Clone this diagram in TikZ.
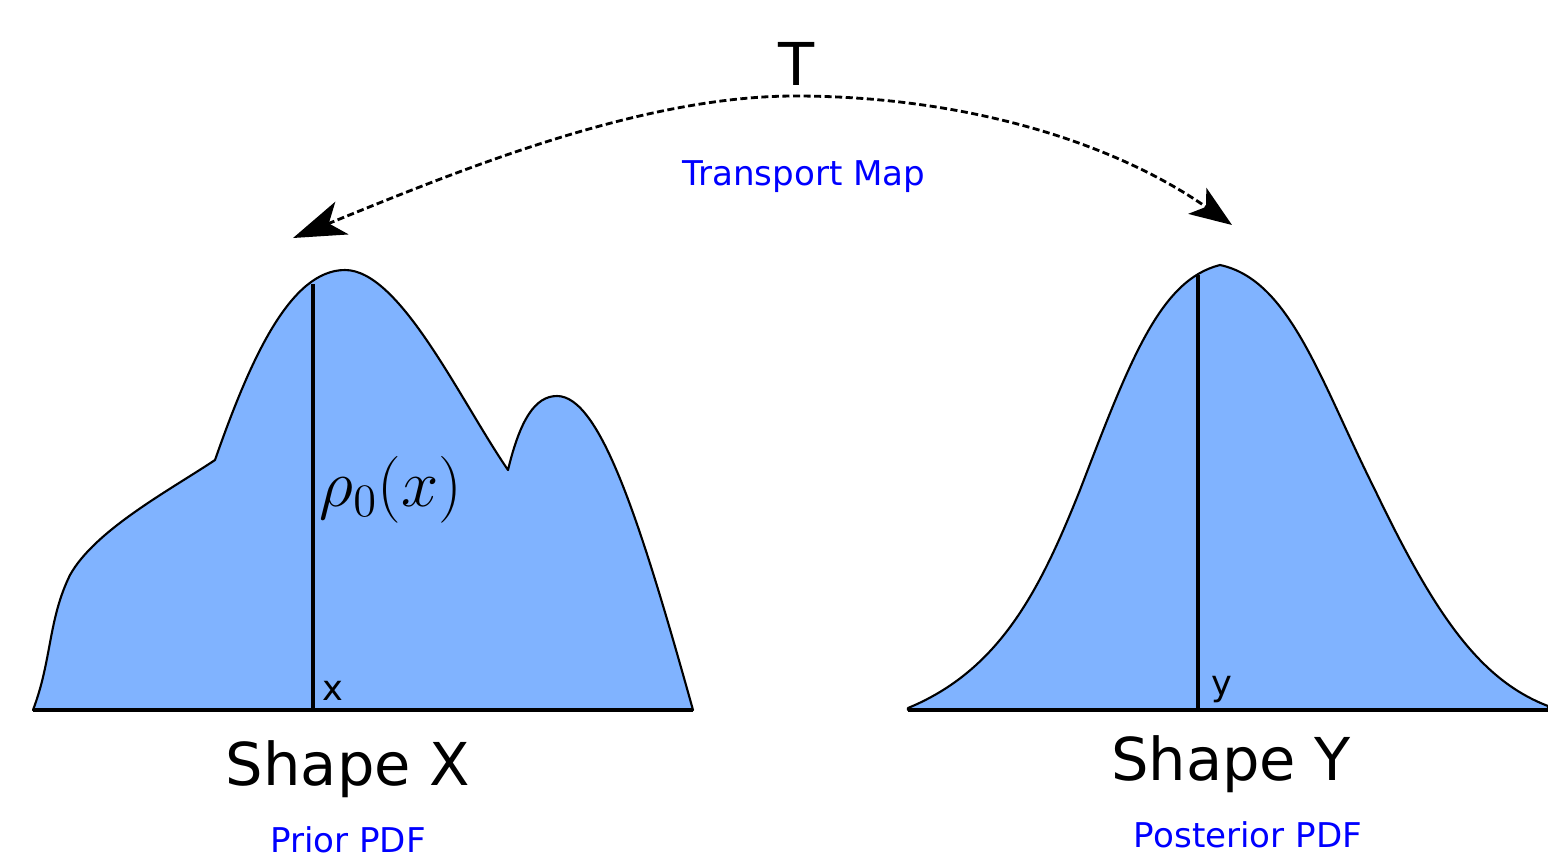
\documentclass[tikz,border=0pt]{standalone}
\usepackage{fontspec}
\usepackage{xcolor}
\usepackage{tikz}
\usetikzlibrary{arrows.meta, positioning}
\newfontfamily\labelfont{DejaVu Sans}
\definecolor{pdfblue}{RGB}{128,179,255}
\definecolor{notetext}{RGB}{0,0,255}

\begin{document}
\begin{tikzpicture}[
    x=0.01cm, y=-0.01cm,
    pdf_area/.style={fill=pdfblue, draw=black, line width=0.6pt, line join=round},
    axis_line/.style={line width=1.2pt},
    marker_line/.style={line width=0.9pt},
    shape_text/.style={anchor=base, font=\labelfont\fontsize{16.8}{20}\selectfont},
    note_text/.style={anchor=base, text=notetext, font=\labelfont\fontsize{9.7}{12}\selectfont},
    point_text/.style={anchor=base, font=\labelfont\fontsize{10}{12}\selectfont},
    map_arrow/.style={{Stealth[length=15pt, width=10pt, inset=4pt]}-{Stealth[length=12pt, width=9pt, inset=3pt]}, line width=0.8pt, dash pattern=on 2pt off 1pt}
]
\useasboundingbox (0,0) rectangle (1548,857);

% prior density
\path[pdf_area] (33,710) .. controls (52,660) and (48,620) .. (70,575)
    .. controls (95,530) and (170,490) .. (215,460)
    .. controls (250,360) and (290,270) .. (345,270)
    .. controls (400,270) and (460,400) .. (508,470)
    .. controls (520,420) and (535,396) .. (557,396)
    .. controls (600,396) and (640,520) .. (693,710) -- cycle;

% posterior density
\path[pdf_area] (908,708) .. controls (1000,670) and (1040,590) .. (1080,490)
    .. controls (1130,360) and (1160,280) .. (1220,265)
    .. controls (1290,280) and (1320,380) .. (1375,490)
    .. controls (1435,615) and (1480,680) .. (1548,706) -- (1548,710) -- (908,710) -- cycle;

\draw[marker_line] (313,710) -- (313,284);
\draw[marker_line] (1198,710) -- (1198,275);
\draw[axis_line] (33,710) -- (693,710);
\draw[axis_line] (908,710) -- (1548,710);

\node (shapex) [shape_text] at (348,785) {Shape X};
\node (shapey) [shape_text] at (1231,780) {Shape Y};
\node (priorpdf) [note_text] at (348,852) {Prior PDF};
\node (postpdf) [note_text] at (1248,847) {Posterior PDF};
\node (maplabel) [note_text] at (804,185) {Transport Map};
\node (tlabel) [shape_text] at (797,85) {T};
\node (xlabel) [point_text] at (333,700) {x};
\node (ylabel) [point_text] at (1222,695) {y};
\node (rho) [font=\LARGE, scale=1.1] at (391,490) {$\rho_0(x)$};

% transport map arc
\coordinate (tstart) at (293,238);
\coordinate (tapex) at (795,96);
\coordinate (tend) at (1232,225);
\draw[map_arrow] (tstart) .. controls (460,170) and (640,96) .. (tapex)
    .. controls (960,96) and (1110,140) .. (tend);
\end{tikzpicture}
\end{document}
